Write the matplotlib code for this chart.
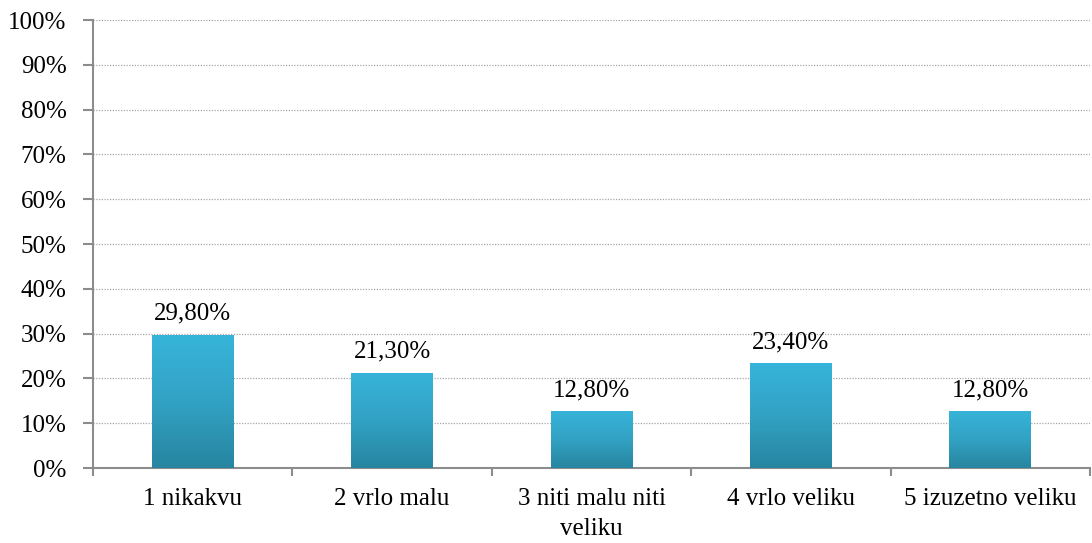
import matplotlib
matplotlib.use("Agg")
import matplotlib.pyplot as plt
import numpy as np
from matplotlib.colors import LinearSegmentedColormap

categories = ["1 nikakvu", "2 vrlo malu", "3 niti malu niti\nveliku", "4 vrlo veliku", "5 izuzetno veliku"]
values = [29.8, 21.3, 12.8, 23.4, 12.8]
value_labels = ["29,80%", "21,30%", "12,80%", "23,40%", "12,80%"]
yticks = list(range(0, 101, 10))
ytick_labels = [f"{t}%" for t in yticks]

plt.rcParams['font.family'] = ['Liberation Serif', 'DejaVu Serif']

fig = plt.figure(figsize=(10.92, 5.43), dpi=100)
ax = fig.add_axes([0.0852, 0.138, 0.913, 0.825])

x = np.arange(len(categories))
bars = ax.bar(x, values, width=0.41, color='#31A5C8', zorder=3)

cmap = LinearSegmentedColormap.from_list('g', ['#2785A0', '#32A2C4', '#37B4DA'])
grad = np.linspace(0, 1, 256).reshape(-1, 1)
for b in bars:
    x0, y0 = b.get_x(), b.get_y()
    w, h = b.get_width(), b.get_height()
    im = ax.imshow(grad, cmap=cmap, origin='lower', aspect='auto',
                   extent=[x0, x0 + w, y0, y0 + h], zorder=4)
    im.set_clip_path(b)

ax.set_xlim(-0.5, len(categories) - 0.5)
ax.set_ylim(0, 100)

for xi, v, lab in zip(x, values, value_labels):
    ax.annotate(lab, (xi, v), xytext=(0, 7), textcoords='offset points',
                ha='center', va='bottom', fontsize=18, color='black')

ax.set_yticks(yticks)
ax.set_yticklabels(ytick_labels, fontsize=18)
ax.set_xticks(x)
ax.set_xticklabels(categories, fontsize=18, va='top', linespacing=1.5)
ax.tick_params(axis='x', length=0, pad=14)
ax.set_xticks(np.arange(-0.5, len(categories), 1.0), minor=True)
ax.tick_params(axis='x', which='minor', length=6, width=1.5, color='#8C8C8C', direction='out')
ax.tick_params(axis='y', length=7, width=1.5, color='#8C8C8C', direction='out', pad=12)

ax.yaxis.grid(True, linestyle=(0, (1, 1.2)), color='#A6A6A6', linewidth=0.9, zorder=0)
ax.set_axisbelow(True)

for s in ['top', 'right']:
    ax.spines[s].set_visible(False)
for s in ['left', 'bottom']:
    ax.spines[s].set_color('#8C8C8C')
    ax.spines[s].set_linewidth(1.5)

fig.savefig("out.png", dpi=100)
